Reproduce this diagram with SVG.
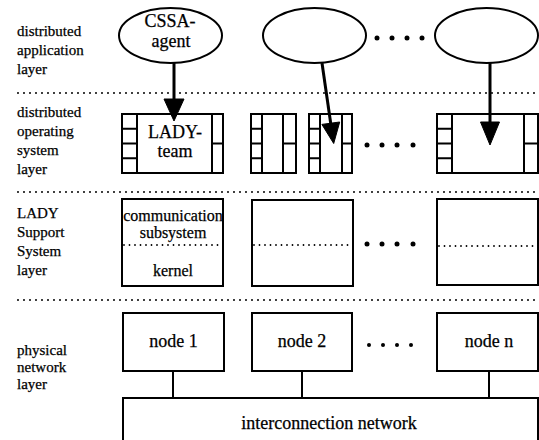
<svg xmlns="http://www.w3.org/2000/svg" width="539" height="440" viewBox="0 0 539 440">
<style>
text{font-family:"Liberation Serif","DejaVu Serif",serif;fill:#000;stroke:#000;stroke-width:0.25}
.lbl{font-size:15px}
.big{font-size:18px;text-anchor:middle}
.mid{font-size:16px;text-anchor:middle}
.box{fill:#fff;stroke:#000;stroke-width:2}
.cell{fill:none;stroke:#000;stroke-width:2}
.sep{stroke:#000;stroke-width:2;stroke-linecap:round;stroke-dasharray:0 6;fill:none}
.isep{stroke:#000;stroke-width:1.8;stroke-linecap:round;stroke-dasharray:0 5.5;fill:none}
.arr{stroke:#000;stroke-width:3;fill:none}
.head{fill:#000;stroke:#000;stroke-width:1;stroke-linejoin:miter}
.wire{stroke:#000;stroke-width:2;fill:none}
.dot{fill:#000}
</style>

<!-- layer labels -->
<g id="labels">
<text class="lbl" x="17" y="36">distributed</text>
<text class="lbl" x="17" y="55">application</text>
<text class="lbl" x="17" y="74">layer</text>
<text class="lbl" x="17" y="117">distributed</text>
<text class="lbl" x="17" y="136">operating</text>
<text class="lbl" x="17" y="155">system</text>
<text class="lbl" x="17" y="174">layer</text>
<text class="lbl" x="17" y="218">LADY</text>
<text class="lbl" x="17" y="237">Support</text>
<text class="lbl" x="17" y="256">System</text>
<text class="lbl" x="17" y="275">layer</text>
<text class="lbl" x="17" y="355">physical</text>
<text class="lbl" x="17" y="372">network</text>
<text class="lbl" x="17" y="389">layer</text>
</g>

<!-- layer separators -->
<g id="separators">
<path class="sep" d="M18,93 H539"/>
<path class="sep" d="M18,192 H539"/>
<path class="sep" d="M18,300 H539"/>
</g>

<!-- application layer -->
<g id="agent1">
<ellipse cx="170.5" cy="35.5" rx="51.5" ry="27.5" fill="#fff" stroke="#000" stroke-width="2"/>
<text class="big" x="170" y="27">CSSA-</text>
<text class="big" x="171" y="47">agent</text>
</g>
<g id="agent2">
<ellipse cx="314.5" cy="35.5" rx="51.5" ry="27.5" fill="#fff" stroke="#000" stroke-width="2"/>
</g>
<g id="agent3">
<ellipse cx="486.5" cy="35.5" rx="51.5" ry="27.5" fill="#fff" stroke="#000" stroke-width="2"/>
</g>
<g id="dots-app">
<circle class="dot" cx="377" cy="38" r="2.5"/>
<circle class="dot" cx="392" cy="38" r="2.5"/>
<circle class="dot" cx="407" cy="38" r="2.5"/>
<circle class="dot" cx="422" cy="38" r="2.5"/>
</g>

<!-- OS layer -->
<g id="team1">
<rect class="box" x="122" y="114" width="101" height="59"/>
<path class="cell" d="M137,114 V173 M122,128.75 H137 M122,143.5 H137 M122,158.25 H137 M212,114 V173 M212,143.5 H223"/>
<text class="big" x="175" y="138">LADY-</text>
<text class="big" x="175" y="157">team</text>
</g>
<g id="team2">
<rect class="box" x="251" y="114" width="45" height="59"/>
<path class="cell" d="M262,114 V173 M251,128.75 H262 M251,143.5 H262 M251,158.25 H262 M283,114 V173 M283,143.5 H296"/>
</g>
<g id="team3">
<rect class="box" x="309" y="114" width="43" height="59"/>
<path class="cell" d="M320,114 V173 M309,128.75 H320 M309,143.5 H320 M309,158.25 H320 M342,114 V173 M342,143.5 H352"/>
</g>
<g id="team4">
<rect class="box" x="437" y="114" width="101" height="59"/>
<path class="cell" d="M452,114 V173 M437,128.75 H452 M437,143.5 H452 M437,158.25 H452 M524,114 V173 M524,143.5 H538"/>
</g>
<g id="dots-os">
<circle class="dot" cx="367" cy="145" r="2.5"/>
<circle class="dot" cx="382" cy="145" r="2.5"/>
<circle class="dot" cx="397" cy="145" r="2.5"/>
<circle class="dot" cx="413" cy="145" r="2.5"/>
</g>

<!-- LADY support system layer -->
<g id="lss1">
<rect class="box" x="122" y="199" width="101" height="87"/>
<path class="isep" d="M124,245 H222"/>
<text class="mid" x="173" y="221">communication</text>
<text class="mid" x="173" y="238">subsystem</text>
<text class="mid" x="173" y="276">kernel</text>
</g>
<g id="lss2">
<rect class="box" x="252" y="200" width="101" height="86"/>
<path class="isep" d="M254,245 H352"/>
</g>
<g id="lss3">
<rect class="box" x="437" y="199" width="101" height="86"/>
<path class="isep" d="M439,246 H537"/>
</g>
<g id="dots-lss">
<circle class="dot" cx="367" cy="244" r="2.5"/>
<circle class="dot" cx="382" cy="244" r="2.5"/>
<circle class="dot" cx="397" cy="244" r="2.5"/>
<circle class="dot" cx="413" cy="244" r="2.5"/>
</g>

<!-- physical layer -->
<g id="node1">
<rect class="box" x="123" y="313" width="101" height="58"/>
<text class="big" x="173.5" y="347">node 1</text>
</g>
<g id="node2">
<rect class="box" x="252" y="313" width="100" height="58"/>
<text class="big" x="302" y="347">node 2</text>
</g>
<g id="noden">
<rect class="box" x="437" y="313" width="101" height="58"/>
<text class="big" x="489" y="347">node n</text>
</g>
<g id="dots-phys">
<circle class="dot" cx="369" cy="345" r="2"/>
<circle class="dot" cx="383" cy="345" r="2"/>
<circle class="dot" cx="397" cy="345" r="2"/>
<circle class="dot" cx="411" cy="345" r="2"/>
</g>
<g id="interconnect">
<rect class="box" x="123" y="398" width="415" height="50"/>
<text class="big" x="329" y="429">interconnection network</text>
</g>

<!-- connectors -->
<g id="connectors">
<line class="arr" x1="174" y1="63" x2="174" y2="101"/>
<polygon class="head" points="164,99 184,99 174,121"/>
<line class="arr" x1="322" y1="63" x2="330.8" y2="124"/>
<polygon class="head" points="321.9,124.4 339.7,122 333.7,143.5"/>
<line class="arr" x1="490" y1="63" x2="490" y2="124"/>
<polygon class="head" points="480.5,122 499.5,122 490,145"/>
<line class="wire" x1="173" y1="371" x2="173" y2="398"/>
<line class="wire" x1="302" y1="371" x2="302" y2="398"/>
<line class="wire" x1="489" y1="371" x2="489" y2="398"/>
</g>
</svg>
